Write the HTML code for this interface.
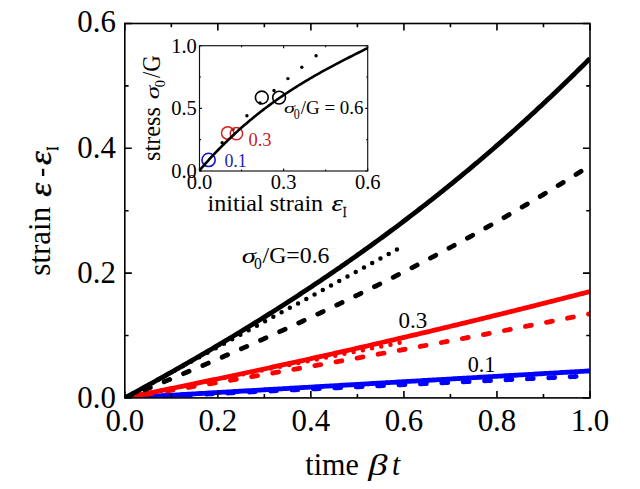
<!DOCTYPE html>
<html><head><meta charset="utf-8"><style>
html,body{margin:0;padding:0;background:#fff;width:640px;height:489px;overflow:hidden}
svg{display:block}
text{font-family:"Liberation Serif",serif}
</style></head><body>
<svg width="640" height="489" viewBox="0 0 640 489" font-family="Liberation Serif, serif">
<defs><clipPath id="mc"><rect x="124.8" y="23.5" width="465.2" height="374.4"/></clipPath></defs>
<rect width="640" height="489" fill="#fff"/>
<g clip-path="url(#mc)">
<path d="M124.80,397.90 L126.18,397.82 L127.56,397.74 L128.94,397.66 L130.32,397.58 L131.70,397.50 L133.08,397.42 L134.45,397.35 L135.83,397.27 L137.21,397.19 L138.59,397.11 L139.97,397.03 L141.35,396.95 L142.73,396.87 L144.11,396.79 L145.49,396.71 L146.87,396.63 L148.25,396.55 L149.63,396.47 L151.01,396.40 L152.38,396.32 L153.76,396.24 L155.14,396.16 L156.52,396.08 L157.90,396.00 L159.28,395.92 L160.66,395.84 L162.04,395.76 L163.42,395.68 L164.80,395.60 L166.18,395.52 L167.56,395.45 L168.94,395.37 L170.31,395.29 L171.69,395.21 L173.07,395.13 L174.45,395.05 L175.83,394.97 L177.21,394.89 L178.59,394.81 L179.97,394.73 L181.35,394.65 L182.73,394.57 L184.11,394.50 L185.49,394.42 L186.87,394.34 L188.24,394.26 L189.62,394.18 L191.00,394.10 L192.38,394.02 L193.76,393.94 L195.14,393.86 L196.52,393.78 L197.90,393.70 L199.28,393.62 L200.66,393.54 L202.04,393.47 L203.42,393.39 L204.80,393.31 L206.17,393.23 L207.55,393.15 L208.93,393.07 L210.31,392.99 L211.69,392.91 L213.07,392.83 L214.45,392.75 L215.83,392.67 L217.21,392.59 L218.59,392.52 L219.97,392.44 L221.35,392.36 L222.73,392.28 L224.11,392.20 L225.48,392.12 L226.86,392.04 L228.24,391.96 L229.62,391.88 L231.00,391.80 L232.38,391.72 L233.76,391.64 L235.14,391.57 L236.52,391.49 L237.90,391.41 L239.28,391.33 L240.66,391.25 L242.04,391.17 L243.41,391.09 L244.79,391.01 L246.17,390.93 L247.55,390.85 L248.93,390.77 L250.31,390.69 L251.69,390.62 L253.07,390.54 L254.45,390.46 L255.83,390.38 L257.21,390.30 L258.59,390.22 L259.97,390.14 L261.34,390.06 L262.72,389.98 L264.10,389.90 L265.48,389.82 L266.86,389.74 L268.24,389.67 L269.62,389.59 L271.00,389.51 L272.38,389.43 L273.76,389.35 L275.14,389.27 L276.52,389.19 L277.90,389.11 L279.27,389.03 L280.65,388.95 L282.03,388.87 L283.41,388.79 L284.79,388.71 L286.17,388.64 L287.55,388.56 L288.93,388.48 L290.31,388.40 L291.69,388.32 L293.07,388.24 L294.45,388.16 L295.83,388.08 L297.20,388.00 L298.58,387.92 L299.96,387.84 L301.34,387.76 L302.72,387.69 L304.10,387.61 L305.48,387.53 L306.86,387.45 L308.24,387.37 L309.62,387.29 L311.00,387.21 L312.38,387.13 L313.76,387.05 L315.13,386.97 L316.51,386.89 L317.89,386.81 L319.27,386.74 L320.65,386.66 L322.03,386.58 L323.41,386.50 L324.79,386.42 L326.17,386.34 L327.55,386.26 L328.93,386.18 L330.31,386.10 L331.69,386.02 L333.06,385.94 L334.44,385.86 L335.82,385.79 L337.20,385.71 L338.58,385.63 L339.96,385.55 L341.34,385.47 L342.72,385.39 L344.10,385.31 L345.48,385.23 L346.86,385.15 L348.24,385.07 L349.62,384.99 L350.99,384.91 L352.37,384.83 L353.75,384.76 L355.13,384.68 L356.51,384.60 L357.89,384.52 L359.27,384.44 L360.65,384.36 L362.03,384.28 L363.41,384.20 L364.79,384.12 L366.17,384.04 L367.55,383.96 L368.92,383.88 L370.30,383.81 L371.68,383.73 L373.06,383.65 L374.44,383.57 L375.82,383.49 L377.20,383.41 L378.58,383.33 L379.96,383.25 L381.34,383.17 L382.72,383.09 L384.10,383.01 L385.48,382.93 L386.85,382.86 L388.23,382.78 L389.61,382.70 L390.99,382.62 L392.37,382.54 L393.75,382.46 L395.13,382.38 L396.51,382.30 L397.89,382.22 L399.27,382.14" fill="none" stroke="#0000ff" stroke-width="4.5" stroke-dasharray="0 9.380" stroke-dashoffset="0.000" stroke-linecap="round"/>
<path d="M124.80,397.90 L127.14,397.79 L129.48,397.68 L131.81,397.57 L134.15,397.46 L136.49,397.34 L138.83,397.23 L141.16,397.12 L143.50,397.01 L145.84,396.90 L148.18,396.79 L150.51,396.68 L152.85,396.57 L155.19,396.46 L157.53,396.35 L159.87,396.23 L162.20,396.12 L164.54,396.01 L166.88,395.90 L169.22,395.79 L171.55,395.68 L173.89,395.57 L176.23,395.46 L178.57,395.35 L180.90,395.24 L183.24,395.12 L185.58,395.01 L187.92,394.90 L190.26,394.79 L192.59,394.68 L194.93,394.57 L197.27,394.46 L199.61,394.35 L201.94,394.24 L204.28,394.13 L206.62,394.01 L208.96,393.90 L211.29,393.79 L213.63,393.68 L215.97,393.57 L218.31,393.46 L220.65,393.35 L222.98,393.24 L225.32,393.13 L227.66,393.02 L230.00,392.90 L232.33,392.79 L234.67,392.68 L237.01,392.57 L239.35,392.46 L241.68,392.35 L244.02,392.24 L246.36,392.13 L248.70,392.02 L251.04,391.91 L253.37,391.79 L255.71,391.68 L258.05,391.57 L260.39,391.46 L262.72,391.35 L265.06,391.24 L267.40,391.13 L269.74,391.02 L272.07,390.91 L274.41,390.80 L276.75,390.68 L279.09,390.57 L281.43,390.46 L283.76,390.35 L286.10,390.24 L288.44,390.13 L290.78,390.02 L293.11,389.91 L295.45,389.80 L297.79,389.69 L300.13,389.57 L302.46,389.46 L304.80,389.35 L307.14,389.24 L309.48,389.13 L311.82,389.02 L314.15,388.91 L316.49,388.80 L318.83,388.69 L321.17,388.58 L323.50,388.46 L325.84,388.35 L328.18,388.24 L330.52,388.13 L332.85,388.02 L335.19,387.91 L337.53,387.80 L339.87,387.69 L342.21,387.58 L344.54,387.47 L346.88,387.35 L349.22,387.24 L351.56,387.13 L353.89,387.02 L356.23,386.91 L358.57,386.80 L360.91,386.69 L363.24,386.58 L365.58,386.47 L367.92,386.36 L370.26,386.24 L372.59,386.13 L374.93,386.02 L377.27,385.91 L379.61,385.80 L381.95,385.69 L384.28,385.58 L386.62,385.47 L388.96,385.36 L391.30,385.25 L393.63,385.13 L395.97,385.02 L398.31,384.91 L400.65,384.80 L402.98,384.69 L405.32,384.58 L407.66,384.47 L410.00,384.36 L412.34,384.25 L414.67,384.14 L417.01,384.02 L419.35,383.91 L421.69,383.80 L424.02,383.69 L426.36,383.58 L428.70,383.47 L431.04,383.36 L433.37,383.25 L435.71,383.14 L438.05,383.03 L440.39,382.91 L442.73,382.80 L445.06,382.69 L447.40,382.58 L449.74,382.47 L452.08,382.36 L454.41,382.25 L456.75,382.14 L459.09,382.03 L461.43,381.92 L463.76,381.80 L466.10,381.69 L468.44,381.58 L470.78,381.47 L473.12,381.36 L475.45,381.25 L477.79,381.14 L480.13,381.03 L482.47,380.92 L484.80,380.81 L487.14,380.69 L489.48,380.58 L491.82,380.47 L494.15,380.36 L496.49,380.25 L498.83,380.14 L501.17,380.03 L503.51,379.92 L505.84,379.81 L508.18,379.70 L510.52,379.58 L512.86,379.47 L515.19,379.36 L517.53,379.25 L519.87,379.14 L522.21,379.03 L524.54,378.92 L526.88,378.81 L529.22,378.70 L531.56,378.59 L533.90,378.47 L536.23,378.36 L538.57,378.25 L540.91,378.14 L543.25,378.03 L545.58,377.92 L547.92,377.81 L550.26,377.70 L552.60,377.59 L554.93,377.48 L557.27,377.36 L559.61,377.25 L561.95,377.14 L564.29,377.03 L566.62,376.92 L568.96,376.81 L571.30,376.70 L573.64,376.59 L575.97,376.48 L578.31,376.37 L580.65,376.25 L582.99,376.14 L585.32,376.03 L587.66,375.92 L590.00,375.81" fill="none" stroke="#0000ff" stroke-width="4.8" stroke-dasharray="6.0 15.420" stroke-dashoffset="4.000" stroke-linecap="round"/>
<path d="M124.80,397.90 L127.14,397.76 L129.48,397.63 L131.81,397.49 L134.15,397.36 L136.49,397.22 L138.83,397.09 L141.16,396.95 L143.50,396.81 L145.84,396.68 L148.18,396.54 L150.51,396.41 L152.85,396.27 L155.19,396.13 L157.53,396.00 L159.87,395.86 L162.20,395.73 L164.54,395.59 L166.88,395.46 L169.22,395.32 L171.55,395.18 L173.89,395.05 L176.23,394.91 L178.57,394.78 L180.90,394.64 L183.24,394.51 L185.58,394.37 L187.92,394.23 L190.26,394.10 L192.59,393.96 L194.93,393.83 L197.27,393.69 L199.61,393.56 L201.94,393.42 L204.28,393.28 L206.62,393.15 L208.96,393.01 L211.29,392.88 L213.63,392.74 L215.97,392.60 L218.31,392.47 L220.65,392.33 L222.98,392.20 L225.32,392.06 L227.66,391.93 L230.00,391.79 L232.33,391.65 L234.67,391.52 L237.01,391.38 L239.35,391.25 L241.68,391.11 L244.02,390.98 L246.36,390.84 L248.70,390.70 L251.04,390.57 L253.37,390.43 L255.71,390.30 L258.05,390.16 L260.39,390.03 L262.72,389.89 L265.06,389.75 L267.40,389.62 L269.74,389.48 L272.07,389.35 L274.41,389.21 L276.75,389.07 L279.09,388.94 L281.43,388.80 L283.76,388.67 L286.10,388.53 L288.44,388.40 L290.78,388.26 L293.11,388.12 L295.45,387.99 L297.79,387.85 L300.13,387.72 L302.46,387.58 L304.80,387.45 L307.14,387.31 L309.48,387.17 L311.82,387.04 L314.15,386.90 L316.49,386.77 L318.83,386.63 L321.17,386.49 L323.50,386.36 L325.84,386.22 L328.18,386.09 L330.52,385.95 L332.85,385.82 L335.19,385.68 L337.53,385.54 L339.87,385.41 L342.21,385.27 L344.54,385.14 L346.88,385.00 L349.22,384.87 L351.56,384.73 L353.89,384.59 L356.23,384.46 L358.57,384.32 L360.91,384.19 L363.24,384.05 L365.58,383.92 L367.92,383.78 L370.26,383.64 L372.59,383.51 L374.93,383.37 L377.27,383.24 L379.61,383.10 L381.95,382.96 L384.28,382.83 L386.62,382.69 L388.96,382.56 L391.30,382.42 L393.63,382.29 L395.97,382.15 L398.31,382.01 L400.65,381.88 L402.98,381.74 L405.32,381.61 L407.66,381.47 L410.00,381.34 L412.34,381.20 L414.67,381.06 L417.01,380.93 L419.35,380.79 L421.69,380.66 L424.02,380.52 L426.36,380.39 L428.70,380.25 L431.04,380.11 L433.37,379.98 L435.71,379.84 L438.05,379.71 L440.39,379.57 L442.73,379.43 L445.06,379.30 L447.40,379.16 L449.74,379.03 L452.08,378.89 L454.41,378.76 L456.75,378.62 L459.09,378.48 L461.43,378.35 L463.76,378.21 L466.10,378.08 L468.44,377.94 L470.78,377.81 L473.12,377.67 L475.45,377.53 L477.79,377.40 L480.13,377.26 L482.47,377.13 L484.80,376.99 L487.14,376.85 L489.48,376.72 L491.82,376.58 L494.15,376.45 L496.49,376.31 L498.83,376.18 L501.17,376.04 L503.51,375.90 L505.84,375.77 L508.18,375.63 L510.52,375.50 L512.86,375.36 L515.19,375.23 L517.53,375.09 L519.87,374.95 L522.21,374.82 L524.54,374.68 L526.88,374.55 L529.22,374.41 L531.56,374.28 L533.90,374.14 L536.23,374.00 L538.57,373.87 L540.91,373.73 L543.25,373.60 L545.58,373.46 L547.92,373.32 L550.26,373.19 L552.60,373.05 L554.93,372.92 L557.27,372.78 L559.61,372.65 L561.95,372.51 L564.29,372.37 L566.62,372.24 L568.96,372.10 L571.30,371.97 L573.64,371.83 L575.97,371.70 L578.31,371.56 L580.65,371.42 L582.99,371.29 L585.32,371.15 L587.66,371.02 L590.00,370.88" fill="none" stroke="#0000ff" stroke-width="4.8" stroke-linejoin="round"/>
<path d="M124.80,397.90 L126.18,397.62 L127.57,397.35 L128.95,397.07 L130.33,396.79 L131.71,396.51 L133.10,396.24 L134.48,395.96 L135.86,395.68 L137.24,395.40 L138.63,395.13 L140.01,394.85 L141.39,394.57 L142.78,394.30 L144.16,394.02 L145.54,393.74 L146.92,393.46 L148.31,393.19 L149.69,392.91 L151.07,392.63 L152.45,392.35 L153.84,392.08 L155.22,391.80 L156.60,391.52 L157.99,391.25 L159.37,390.97 L160.75,390.69 L162.13,390.41 L163.52,390.14 L164.90,389.86 L166.28,389.58 L167.67,389.30 L169.05,389.03 L170.43,388.75 L171.81,388.47 L173.20,388.20 L174.58,387.92 L175.96,387.64 L177.34,387.36 L178.73,387.09 L180.11,386.81 L181.49,386.53 L182.88,386.25 L184.26,385.98 L185.64,385.70 L187.02,385.42 L188.41,385.14 L189.79,384.87 L191.17,384.59 L192.55,384.31 L193.94,384.04 L195.32,383.76 L196.70,383.48 L198.09,383.20 L199.47,382.93 L200.85,382.65 L202.23,382.37 L203.62,382.09 L205.00,381.82 L206.38,381.54 L207.76,381.26 L209.15,380.99 L210.53,380.71 L211.91,380.43 L213.30,380.15 L214.68,379.88 L216.06,379.60 L217.44,379.32 L218.83,379.04 L220.21,378.77 L221.59,378.49 L222.97,378.21 L224.36,377.94 L225.74,377.66 L227.12,377.38 L228.51,377.10 L229.89,376.83 L231.27,376.55 L232.65,376.27 L234.04,375.99 L235.42,375.72 L236.80,375.44 L238.18,375.16 L239.57,374.89 L240.95,374.61 L242.33,374.33 L243.72,374.05 L245.10,373.78 L246.48,373.50 L247.86,373.22 L249.25,372.94 L250.63,372.67 L252.01,372.39 L253.40,372.11 L254.78,371.84 L256.16,371.56 L257.54,371.28 L258.93,371.00 L260.31,370.73 L261.69,370.45 L263.07,370.17 L264.46,369.89 L265.84,369.62 L267.22,369.34 L268.61,369.06 L269.99,368.79 L271.37,368.51 L272.75,368.23 L274.14,367.95 L275.52,367.68 L276.90,367.40 L278.28,367.12 L279.67,366.84 L281.05,366.57 L282.43,366.29 L283.82,366.01 L285.20,365.73 L286.58,365.46 L287.96,365.18 L289.35,364.90 L290.73,364.63 L292.11,364.35 L293.49,364.07 L294.88,363.79 L296.26,363.52 L297.64,363.24 L299.03,362.96 L300.41,362.68 L301.79,362.41 L303.17,362.13 L304.56,361.85 L305.94,361.58 L307.32,361.30 L308.70,361.02 L310.09,360.74 L311.47,360.47 L312.85,360.19 L314.24,359.91 L315.62,359.63 L317.00,359.36 L318.38,359.08 L319.77,358.80 L321.15,358.53 L322.53,358.25 L323.91,357.97 L325.30,357.69 L326.68,357.42 L328.06,357.14 L329.45,356.86 L330.83,356.58 L332.21,356.31 L333.59,356.03 L334.98,355.75 L336.36,355.48 L337.74,355.20 L339.13,354.92 L340.51,354.64 L341.89,354.37 L343.27,354.09 L344.66,353.81 L346.04,353.53 L347.42,353.26 L348.80,352.98 L350.19,352.70 L351.57,352.43 L352.95,352.15 L354.34,351.87 L355.72,351.59 L357.10,351.32 L358.48,351.04 L359.87,350.76 L361.25,350.48 L362.63,350.21 L364.01,349.93 L365.40,349.65 L366.78,349.38 L368.16,349.10 L369.55,348.82 L370.93,348.54 L372.31,348.27 L373.69,347.99 L375.08,347.71 L376.46,347.43 L377.84,347.16 L379.22,346.88 L380.61,346.60 L381.99,346.32 L383.37,346.05 L384.76,345.77 L386.14,345.49 L387.52,345.22 L388.90,344.94 L390.29,344.66 L391.67,344.38 L393.05,344.11 L394.43,343.83 L395.82,343.55 L397.20,343.27 L398.58,343.00 L399.97,342.72" fill="none" stroke="#ff0000" stroke-width="4.5" stroke-dasharray="0 9.383" stroke-dashoffset="1.180" stroke-linecap="round"/>
<path d="M124.80,397.90 L127.14,397.52 L129.48,397.14 L131.81,396.76 L134.15,396.38 L136.49,396.00 L138.83,395.62 L141.16,395.23 L143.50,394.85 L145.84,394.47 L148.18,394.08 L150.51,393.70 L152.85,393.32 L155.19,392.93 L157.53,392.55 L159.87,392.16 L162.20,391.77 L164.54,391.39 L166.88,391.00 L169.22,390.61 L171.55,390.22 L173.89,389.84 L176.23,389.45 L178.57,389.06 L180.90,388.67 L183.24,388.28 L185.58,387.89 L187.92,387.50 L190.26,387.10 L192.59,386.71 L194.93,386.32 L197.27,385.93 L199.61,385.53 L201.94,385.14 L204.28,384.75 L206.62,384.35 L208.96,383.96 L211.29,383.56 L213.63,383.17 L215.97,382.77 L218.31,382.37 L220.65,381.98 L222.98,381.58 L225.32,381.18 L227.66,380.78 L230.00,380.38 L232.33,379.98 L234.67,379.58 L237.01,379.18 L239.35,378.78 L241.68,378.38 L244.02,377.98 L246.36,377.58 L248.70,377.18 L251.04,376.77 L253.37,376.37 L255.71,375.97 L258.05,375.56 L260.39,375.16 L262.72,374.75 L265.06,374.35 L267.40,373.94 L269.74,373.53 L272.07,373.13 L274.41,372.72 L276.75,372.31 L279.09,371.90 L281.43,371.50 L283.76,371.09 L286.10,370.68 L288.44,370.27 L290.78,369.86 L293.11,369.45 L295.45,369.04 L297.79,368.62 L300.13,368.21 L302.46,367.80 L304.80,367.39 L307.14,366.97 L309.48,366.56 L311.82,366.14 L314.15,365.73 L316.49,365.32 L318.83,364.90 L321.17,364.48 L323.50,364.07 L325.84,363.65 L328.18,363.23 L330.52,362.82 L332.85,362.40 L335.19,361.98 L337.53,361.56 L339.87,361.14 L342.21,360.72 L344.54,360.30 L346.88,359.88 L349.22,359.46 L351.56,359.04 L353.89,358.61 L356.23,358.19 L358.57,357.77 L360.91,357.34 L363.24,356.92 L365.58,356.50 L367.92,356.07 L370.26,355.65 L372.59,355.22 L374.93,354.79 L377.27,354.37 L379.61,353.94 L381.95,353.51 L384.28,353.09 L386.62,352.66 L388.96,352.23 L391.30,351.80 L393.63,351.37 L395.97,350.94 L398.31,350.51 L400.65,350.08 L402.98,349.65 L405.32,349.22 L407.66,348.78 L410.00,348.35 L412.34,347.92 L414.67,347.48 L417.01,347.05 L419.35,346.62 L421.69,346.18 L424.02,345.75 L426.36,345.31 L428.70,344.87 L431.04,344.44 L433.37,344.00 L435.71,343.56 L438.05,343.13 L440.39,342.69 L442.73,342.25 L445.06,341.81 L447.40,341.37 L449.74,340.93 L452.08,340.49 L454.41,340.05 L456.75,339.61 L459.09,339.16 L461.43,338.72 L463.76,338.28 L466.10,337.84 L468.44,337.39 L470.78,336.95 L473.12,336.50 L475.45,336.06 L477.79,335.61 L480.13,335.17 L482.47,334.72 L484.80,334.28 L487.14,333.83 L489.48,333.38 L491.82,332.93 L494.15,332.48 L496.49,332.04 L498.83,331.59 L501.17,331.14 L503.51,330.69 L505.84,330.24 L508.18,329.78 L510.52,329.33 L512.86,328.88 L515.19,328.43 L517.53,327.98 L519.87,327.52 L522.21,327.07 L524.54,326.62 L526.88,326.16 L529.22,325.71 L531.56,325.25 L533.90,324.79 L536.23,324.34 L538.57,323.88 L540.91,323.42 L543.25,322.97 L545.58,322.51 L547.92,322.05 L550.26,321.59 L552.60,321.13 L554.93,320.67 L557.27,320.21 L559.61,319.75 L561.95,319.29 L564.29,318.83 L566.62,318.37 L568.96,317.90 L571.30,317.44 L573.64,316.98 L575.97,316.51 L578.31,316.05 L580.65,315.59 L582.99,315.12 L585.32,314.65 L587.66,314.19 L590.00,313.72" fill="none" stroke="#ff0000" stroke-width="4.8" stroke-dasharray="6.0 15.420" stroke-dashoffset="0.000" stroke-linecap="round"/>
<path d="M124.80,397.90 L127.14,397.43 L129.48,396.97 L131.81,396.50 L134.15,396.03 L136.49,395.57 L138.83,395.10 L141.16,394.63 L143.50,394.16 L145.84,393.69 L148.18,393.21 L150.51,392.74 L152.85,392.27 L155.19,391.80 L157.53,391.32 L159.87,390.85 L162.20,390.37 L164.54,389.89 L166.88,389.42 L169.22,388.94 L171.55,388.46 L173.89,387.98 L176.23,387.50 L178.57,387.02 L180.90,386.54 L183.24,386.06 L185.58,385.57 L187.92,385.09 L190.26,384.61 L192.59,384.12 L194.93,383.63 L197.27,383.15 L199.61,382.66 L201.94,382.17 L204.28,381.68 L206.62,381.20 L208.96,380.71 L211.29,380.22 L213.63,379.72 L215.97,379.23 L218.31,378.74 L220.65,378.25 L222.98,377.75 L225.32,377.26 L227.66,376.76 L230.00,376.27 L232.33,375.77 L234.67,375.27 L237.01,374.77 L239.35,374.27 L241.68,373.77 L244.02,373.27 L246.36,372.77 L248.70,372.27 L251.04,371.77 L253.37,371.27 L255.71,370.76 L258.05,370.26 L260.39,369.75 L262.72,369.25 L265.06,368.74 L267.40,368.23 L269.74,367.72 L272.07,367.22 L274.41,366.71 L276.75,366.20 L279.09,365.68 L281.43,365.17 L283.76,364.66 L286.10,364.15 L288.44,363.63 L290.78,363.12 L293.11,362.61 L295.45,362.09 L297.79,361.57 L300.13,361.06 L302.46,360.54 L304.80,360.02 L307.14,359.50 L309.48,358.98 L311.82,358.46 L314.15,357.94 L316.49,357.42 L318.83,356.89 L321.17,356.37 L323.50,355.85 L325.84,355.32 L328.18,354.80 L330.52,354.27 L332.85,353.74 L335.19,353.21 L337.53,352.69 L339.87,352.16 L342.21,351.63 L344.54,351.10 L346.88,350.57 L349.22,350.03 L351.56,349.50 L353.89,348.97 L356.23,348.43 L358.57,347.90 L360.91,347.36 L363.24,346.83 L365.58,346.29 L367.92,345.75 L370.26,345.22 L372.59,344.68 L374.93,344.14 L377.27,343.60 L379.61,343.06 L381.95,342.51 L384.28,341.97 L386.62,341.43 L388.96,340.89 L391.30,340.34 L393.63,339.80 L395.97,339.25 L398.31,338.70 L400.65,338.16 L402.98,337.61 L405.32,337.06 L407.66,336.51 L410.00,335.96 L412.34,335.41 L414.67,334.86 L417.01,334.31 L419.35,333.75 L421.69,333.20 L424.02,332.65 L426.36,332.09 L428.70,331.54 L431.04,330.98 L433.37,330.42 L435.71,329.86 L438.05,329.31 L440.39,328.75 L442.73,328.19 L445.06,327.63 L447.40,327.07 L449.74,326.50 L452.08,325.94 L454.41,325.38 L456.75,324.81 L459.09,324.25 L461.43,323.68 L463.76,323.12 L466.10,322.55 L468.44,321.98 L470.78,321.41 L473.12,320.85 L475.45,320.28 L477.79,319.71 L480.13,319.13 L482.47,318.56 L484.80,317.99 L487.14,317.42 L489.48,316.84 L491.82,316.27 L494.15,315.69 L496.49,315.12 L498.83,314.54 L501.17,313.96 L503.51,313.39 L505.84,312.81 L508.18,312.23 L510.52,311.65 L512.86,311.07 L515.19,310.49 L517.53,309.90 L519.87,309.32 L522.21,308.74 L524.54,308.15 L526.88,307.57 L529.22,306.98 L531.56,306.40 L533.90,305.81 L536.23,305.22 L538.57,304.63 L540.91,304.04 L543.25,303.45 L545.58,302.86 L547.92,302.27 L550.26,301.68 L552.60,301.09 L554.93,300.49 L557.27,299.90 L559.61,299.30 L561.95,298.71 L564.29,298.11 L566.62,297.52 L568.96,296.92 L571.30,296.32 L573.64,295.72 L575.97,295.12 L578.31,294.52 L580.65,293.92 L582.99,293.32 L585.32,292.72 L587.66,292.11 L590.00,291.51" fill="none" stroke="#ff0000" stroke-width="4.8" stroke-linejoin="round"/>
<path d="M124.80,397.90 L126.17,397.15 L127.54,396.40 L128.91,395.66 L130.28,394.91 L131.65,394.16 L133.02,393.41 L134.39,392.67 L135.76,391.92 L137.13,391.17 L138.50,390.42 L139.87,389.68 L141.24,388.93 L142.61,388.18 L143.98,387.43 L145.36,386.69 L146.73,385.94 L148.10,385.19 L149.47,384.44 L150.84,383.70 L152.21,382.95 L153.58,382.20 L154.95,381.45 L156.32,380.71 L157.69,379.96 L159.06,379.21 L160.43,378.46 L161.80,377.72 L163.17,376.97 L164.54,376.22 L165.91,375.47 L167.28,374.73 L168.65,373.98 L170.02,373.23 L171.39,372.48 L172.76,371.74 L174.13,370.99 L175.50,370.24 L176.87,369.49 L178.24,368.74 L179.61,368.00 L180.98,367.25 L182.35,366.50 L183.73,365.75 L185.10,365.01 L186.47,364.26 L187.84,363.51 L189.21,362.76 L190.58,362.02 L191.95,361.27 L193.32,360.52 L194.69,359.77 L196.06,359.03 L197.43,358.28 L198.80,357.53 L200.17,356.78 L201.54,356.04 L202.91,355.29 L204.28,354.54 L205.65,353.79 L207.02,353.05 L208.39,352.30 L209.76,351.55 L211.13,350.80 L212.50,350.06 L213.87,349.31 L215.24,348.56 L216.61,347.81 L217.98,347.07 L219.35,346.32 L220.72,345.57 L222.10,344.82 L223.47,344.08 L224.84,343.33 L226.21,342.58 L227.58,341.83 L228.95,341.08 L230.32,340.34 L231.69,339.59 L233.06,338.84 L234.43,338.09 L235.80,337.35 L237.17,336.60 L238.54,335.85 L239.91,335.10 L241.28,334.36 L242.65,333.61 L244.02,332.86 L245.39,332.11 L246.76,331.37 L248.13,330.62 L249.50,329.87 L250.87,329.12 L252.24,328.38 L253.61,327.63 L254.98,326.88 L256.35,326.13 L257.72,325.39 L259.09,324.64 L260.46,323.89 L261.84,323.14 L263.21,322.40 L264.58,321.65 L265.95,320.90 L267.32,320.15 L268.69,319.41 L270.06,318.66 L271.43,317.91 L272.80,317.16 L274.17,316.41 L275.54,315.67 L276.91,314.92 L278.28,314.17 L279.65,313.42 L281.02,312.68 L282.39,311.93 L283.76,311.18 L285.13,310.43 L286.50,309.69 L287.87,308.94 L289.24,308.19 L290.61,307.44 L291.98,306.70 L293.35,305.95 L294.72,305.20 L296.09,304.45 L297.46,303.71 L298.83,302.96 L300.21,302.21 L301.58,301.46 L302.95,300.72 L304.32,299.97 L305.69,299.22 L307.06,298.47 L308.43,297.73 L309.80,296.98 L311.17,296.23 L312.54,295.48 L313.91,294.74 L315.28,293.99 L316.65,293.24 L318.02,292.49 L319.39,291.75 L320.76,291.00 L322.13,290.25 L323.50,289.50 L324.87,288.75 L326.24,288.01 L327.61,287.26 L328.98,286.51 L330.35,285.76 L331.72,285.02 L333.09,284.27 L334.46,283.52 L335.83,282.77 L337.20,282.03 L338.58,281.28 L339.95,280.53 L341.32,279.78 L342.69,279.04 L344.06,278.29 L345.43,277.54 L346.80,276.79 L348.17,276.05 L349.54,275.30 L350.91,274.55 L352.28,273.80 L353.65,273.06 L355.02,272.31 L356.39,271.56 L357.76,270.81 L359.13,270.07 L360.50,269.32 L361.87,268.57 L363.24,267.82 L364.61,267.08 L365.98,266.33 L367.35,265.58 L368.72,264.83 L370.09,264.09 L371.46,263.34 L372.83,262.59 L374.20,261.84 L375.57,261.09 L376.94,260.35 L378.32,259.60 L379.69,258.85 L381.06,258.10 L382.43,257.36 L383.80,256.61 L385.17,255.86 L386.54,255.11 L387.91,254.37 L389.28,253.62 L390.65,252.87 L392.02,252.12 L393.39,251.38 L394.76,250.63 L396.13,249.88 L397.50,249.13" fill="none" stroke="#000" stroke-width="4.5" stroke-dasharray="0 9.384" stroke-dashoffset="9.084" stroke-linecap="round"/>
<path d="M124.80,397.90 L127.14,396.95 L129.48,396.00 L131.81,395.05 L134.15,394.09 L136.49,393.14 L138.83,392.18 L141.16,391.22 L143.50,390.27 L145.84,389.31 L148.18,388.34 L150.51,387.38 L152.85,386.42 L155.19,385.45 L157.53,384.49 L159.87,383.52 L162.20,382.55 L164.54,381.58 L166.88,380.61 L169.22,379.63 L171.55,378.66 L173.89,377.68 L176.23,376.70 L178.57,375.72 L180.90,374.74 L183.24,373.76 L185.58,372.77 L187.92,371.79 L190.26,370.80 L192.59,369.81 L194.93,368.82 L197.27,367.83 L199.61,366.84 L201.94,365.84 L204.28,364.84 L206.62,363.84 L208.96,362.84 L211.29,361.84 L213.63,360.84 L215.97,359.83 L218.31,358.82 L220.65,357.81 L222.98,356.80 L225.32,355.79 L227.66,354.77 L230.00,353.76 L232.33,352.74 L234.67,351.72 L237.01,350.70 L239.35,349.67 L241.68,348.65 L244.02,347.62 L246.36,346.59 L248.70,345.56 L251.04,344.52 L253.37,343.49 L255.71,342.45 L258.05,341.41 L260.39,340.37 L262.72,339.32 L265.06,338.28 L267.40,337.23 L269.74,336.18 L272.07,335.12 L274.41,334.07 L276.75,333.01 L279.09,331.95 L281.43,330.89 L283.76,329.83 L286.10,328.76 L288.44,327.70 L290.78,326.63 L293.11,325.55 L295.45,324.48 L297.79,323.40 L300.13,322.32 L302.46,321.24 L304.80,320.16 L307.14,319.07 L309.48,317.98 L311.82,316.89 L314.15,315.80 L316.49,314.70 L318.83,313.61 L321.17,312.51 L323.50,311.40 L325.84,310.30 L328.18,309.19 L330.52,308.08 L332.85,306.97 L335.19,305.85 L337.53,304.73 L339.87,303.61 L342.21,302.49 L344.54,301.36 L346.88,300.23 L349.22,299.10 L351.56,297.97 L353.89,296.83 L356.23,295.69 L358.57,294.55 L360.91,293.41 L363.24,292.26 L365.58,291.11 L367.92,289.96 L370.26,288.80 L372.59,287.65 L374.93,286.48 L377.27,285.32 L379.61,284.15 L381.95,282.99 L384.28,281.81 L386.62,280.64 L388.96,279.46 L391.30,278.28 L393.63,277.10 L395.97,275.91 L398.31,274.72 L400.65,273.53 L402.98,272.33 L405.32,271.13 L407.66,269.93 L410.00,268.73 L412.34,267.52 L414.67,266.31 L417.01,265.09 L419.35,263.88 L421.69,262.66 L424.02,261.43 L426.36,260.21 L428.70,258.98 L431.04,257.75 L433.37,256.51 L435.71,255.27 L438.05,254.03 L440.39,252.79 L442.73,251.54 L445.06,250.28 L447.40,249.03 L449.74,247.77 L452.08,246.51 L454.41,245.25 L456.75,243.98 L459.09,242.71 L461.43,241.43 L463.76,240.15 L466.10,238.87 L468.44,237.59 L470.78,236.30 L473.12,235.01 L475.45,233.71 L477.79,232.41 L480.13,231.11 L482.47,229.80 L484.80,228.49 L487.14,227.18 L489.48,225.86 L491.82,224.54 L494.15,223.22 L496.49,221.89 L498.83,220.56 L501.17,219.23 L503.51,217.89 L505.84,216.55 L508.18,215.20 L510.52,213.86 L512.86,212.50 L515.19,211.15 L517.53,209.79 L519.87,208.42 L522.21,207.05 L524.54,205.68 L526.88,204.31 L529.22,202.93 L531.56,201.55 L533.90,200.16 L536.23,198.77 L538.57,197.38 L540.91,195.98 L543.25,194.58 L545.58,193.17 L547.92,191.76 L550.26,190.35 L552.60,188.93 L554.93,187.51 L557.27,186.08 L559.61,184.65 L561.95,183.22 L564.29,181.78 L566.62,180.34 L568.96,178.89 L571.30,177.44 L573.64,175.99 L575.97,174.53 L578.31,173.07 L580.65,171.60 L582.99,170.13 L585.32,168.66 L587.66,167.18 L590.00,165.69" fill="none" stroke="#000" stroke-width="4.8" stroke-dasharray="6.0 14.980" stroke-dashoffset="-0.600" stroke-linecap="round"/>
<path d="M124.80,397.90 L127.14,396.63 L129.48,395.37 L131.81,394.09 L134.15,392.82 L136.49,391.55 L138.83,390.27 L141.16,388.99 L143.50,387.70 L145.84,386.42 L148.18,385.13 L150.51,383.83 L152.85,382.54 L155.19,381.24 L157.53,379.94 L159.87,378.64 L162.20,377.33 L164.54,376.03 L166.88,374.71 L169.22,373.40 L171.55,372.08 L173.89,370.76 L176.23,369.44 L178.57,368.11 L180.90,366.78 L183.24,365.45 L185.58,364.11 L187.92,362.77 L190.26,361.43 L192.59,360.09 L194.93,358.74 L197.27,357.38 L199.61,356.03 L201.94,354.67 L204.28,353.31 L206.62,351.94 L208.96,350.57 L211.29,349.20 L213.63,347.82 L215.97,346.44 L218.31,345.06 L220.65,343.67 L222.98,342.28 L225.32,340.89 L227.66,339.49 L230.00,338.09 L232.33,336.68 L234.67,335.27 L237.01,333.86 L239.35,332.44 L241.68,331.02 L244.02,329.59 L246.36,328.17 L248.70,326.73 L251.04,325.30 L253.37,323.85 L255.71,322.41 L258.05,320.96 L260.39,319.51 L262.72,318.05 L265.06,316.59 L267.40,315.12 L269.74,313.65 L272.07,312.18 L274.41,310.70 L276.75,309.21 L279.09,307.72 L281.43,306.23 L283.76,304.74 L286.10,303.23 L288.44,301.73 L290.78,300.22 L293.11,298.70 L295.45,297.18 L297.79,295.66 L300.13,294.13 L302.46,292.60 L304.80,291.06 L307.14,289.52 L309.48,287.97 L311.82,286.42 L314.15,284.86 L316.49,283.30 L318.83,281.73 L321.17,280.16 L323.50,278.58 L325.84,277.00 L328.18,275.41 L330.52,273.82 L332.85,272.22 L335.19,270.62 L337.53,269.01 L339.87,267.40 L342.21,265.78 L344.54,264.16 L346.88,262.53 L349.22,260.90 L351.56,259.26 L353.89,257.61 L356.23,255.96 L358.57,254.31 L360.91,252.65 L363.24,250.98 L365.58,249.31 L367.92,247.63 L370.26,245.95 L372.59,244.26 L374.93,242.57 L377.27,240.87 L379.61,239.16 L381.95,237.45 L384.28,235.73 L386.62,234.01 L388.96,232.28 L391.30,230.55 L393.63,228.81 L395.97,227.06 L398.31,225.31 L400.65,223.55 L402.98,221.79 L405.32,220.01 L407.66,218.24 L410.00,216.46 L412.34,214.67 L414.67,212.87 L417.01,211.07 L419.35,209.26 L421.69,207.45 L424.02,205.63 L426.36,203.80 L428.70,201.97 L431.04,200.13 L433.37,198.29 L435.71,196.44 L438.05,194.58 L440.39,192.71 L442.73,190.84 L445.06,188.96 L447.40,187.08 L449.74,185.19 L452.08,183.29 L454.41,181.39 L456.75,179.47 L459.09,177.56 L461.43,175.63 L463.76,173.70 L466.10,171.76 L468.44,169.82 L470.78,167.87 L473.12,165.91 L475.45,163.94 L477.79,161.97 L480.13,159.99 L482.47,158.00 L484.80,156.01 L487.14,154.00 L489.48,152.00 L491.82,149.98 L494.15,147.96 L496.49,145.93 L498.83,143.89 L501.17,141.85 L503.51,139.79 L505.84,137.73 L508.18,135.67 L510.52,133.59 L512.86,131.51 L515.19,129.42 L517.53,127.33 L519.87,125.22 L522.21,123.11 L524.54,120.99 L526.88,118.86 L529.22,116.73 L531.56,114.59 L533.90,112.44 L536.23,110.28 L538.57,108.11 L540.91,105.94 L543.25,103.76 L545.58,101.57 L547.92,99.37 L550.26,97.17 L552.60,94.96 L554.93,92.73 L557.27,90.51 L559.61,88.27 L561.95,86.02 L564.29,83.77 L566.62,81.51 L568.96,79.24 L571.30,76.96 L573.64,74.67 L575.97,72.38 L578.31,70.08 L580.65,67.77 L582.99,65.45 L585.32,63.12 L587.66,60.78 L590.00,58.44" fill="none" stroke="#000" stroke-width="4.8" stroke-linejoin="round"/>
</g>
<rect x="124.8" y="23.50" width="465.20" height="374.40" fill="none" stroke="#000" stroke-width="1.6"/>
<path d="M124.80,397.90v-7M124.80,23.50v7M171.32,397.90v-3.8M171.32,23.50v3.8M217.84,397.90v-7M217.84,23.50v7M264.36,397.90v-3.8M264.36,23.50v3.8M310.88,397.90v-7M310.88,23.50v7M357.40,397.90v-3.8M357.40,23.50v3.8M403.92,397.90v-7M403.92,23.50v7M450.44,397.90v-3.8M450.44,23.50v3.8M496.96,397.90v-7M496.96,23.50v7M543.48,397.90v-3.8M543.48,23.50v3.8M590.00,397.90v-7M590.00,23.50v7M124.80,397.90h7M590.00,397.90h-7M124.80,335.50h3.8M590.00,335.50h-3.8M124.80,273.10h7M590.00,273.10h-7M124.80,210.70h3.8M590.00,210.70h-3.8M124.80,148.30h7M590.00,148.30h-7M124.80,85.90h3.8M590.00,85.90h-3.8M124.80,23.50h7M590.00,23.50h-7" stroke="#000" stroke-width="1.6" fill="none"/>
<text transform="translate(124.80,430.5) scale(0.95,1)" text-anchor="middle" font-size="32.5">0.0</text>
<text transform="translate(217.84,430.5) scale(0.95,1)" text-anchor="middle" font-size="32.5">0.2</text>
<text transform="translate(310.88,430.5) scale(0.95,1)" text-anchor="middle" font-size="32.5">0.4</text>
<text transform="translate(403.92,430.5) scale(0.95,1)" text-anchor="middle" font-size="32.5">0.6</text>
<text transform="translate(496.96,430.5) scale(0.95,1)" text-anchor="middle" font-size="32.5">0.8</text>
<text transform="translate(590.00,430.5) scale(0.95,1)" text-anchor="middle" font-size="32.5">1.0</text>
<text transform="translate(115.9,407.9) scale(0.95,1)" text-anchor="end" font-size="32.5">0.0</text>
<text transform="translate(115.9,282.6) scale(0.95,1)" text-anchor="end" font-size="32.5">0.2</text>
<text transform="translate(115.9,157.6) scale(0.95,1)" text-anchor="end" font-size="32.5">0.4</text>
<text transform="translate(115.9,31.9) scale(0.95,1)" text-anchor="end" font-size="32.5">0.6</text>
<text transform="translate(305.31,475.10) scale(0.940,1.000)" font-size="32">time</text>
<text transform="translate(368.22,475.10) scale(1.207,0.940)" font-size="32" font-style="italic">β</text>
<text transform="translate(392.12,475.10) scale(0.911,1.000)" font-size="32" font-style="italic">t</text>
<g transform="translate(49.6,276.0) rotate(-90)"><text transform="translate(0.23,0.00) scale(0.971,1.000)" font-size="32">strain</text><text transform="translate(79.14,1.00) scale(1.102,0.960)" font-size="32" font-style="italic" stroke="#000" stroke-width="0.5">ε</text><text transform="translate(111.05,1.00) scale(1.093,0.960)" font-size="32" font-style="italic" stroke="#000" stroke-width="0.5">ε</text><text transform="translate(125.59,8.20) scale(0.691,1.000)" font-size="16.6" stroke="#000" stroke-width="0.6">I</text></g>
<rect x="41.9" y="168.8" width="2.4" height="7.2" fill="#000"/>
<text transform="translate(241.65,263.30) scale(1.195,0.860)" font-size="24" font-style="italic">σ</text>
<text transform="translate(254.01,269.20) scale(0.916,1.000)" font-size="17">0</text>
<text transform="translate(262.60,263.30) scale(0.991,1.000)" font-size="24">/G=0.6</text>
<text transform="translate(398.52,328.20) scale(0.959,1.000)" font-size="24">0.3</text>
<text transform="translate(467.66,371.50) scale(0.922,1.000)" font-size="24">0.1</text>
<rect x="198.5" y="44.7" width="170.2" height="127.3" fill="#fff"/>
<rect x="199.5" y="45.7" width="168.20" height="125.30" fill="none" stroke="#111" stroke-width="1.15"/>
<path d="M199.50,171.00v-2.5M199.50,45.70v2.5M241.55,171.00v-1.5M241.55,45.70v1.5M283.60,171.00v-2.5M283.60,45.70v2.5M325.65,171.00v-1.5M325.65,45.70v1.5M367.70,171.00v-2.5M367.70,45.70v2.5M199.50,171.00h2.5M367.70,171.00h-2.5M199.50,139.68h1.5M367.70,139.68h-1.5M199.50,108.35h2.5M367.70,108.35h-2.5M199.50,77.03h1.5M367.70,77.03h-1.5M199.50,45.70h2.5M367.70,45.70h-2.5" stroke="#111" stroke-width="1.15" fill="none"/>
<text x="199.50" y="188.8" text-anchor="middle" font-size="20.5">0.0</text>
<text x="283.60" y="188.8" text-anchor="middle" font-size="20.5">0.3</text>
<text x="367.70" y="188.8" text-anchor="middle" font-size="20.5">0.6</text>
<text x="196.8" y="178.00" text-anchor="end" font-size="20.5">0.0</text>
<text x="196.8" y="115.35" text-anchor="end" font-size="20.5">0.5</text>
<text x="196.8" y="52.70" text-anchor="end" font-size="20.5">1.0</text>
<text transform="translate(207.59,210.70) scale(1.002,1.000)" font-size="24">initial strain</text>
<text transform="translate(331.59,211.00) scale(1.189,1.000)" font-size="24" font-style="italic" stroke="#000" stroke-width="0.12">ε</text>
<text transform="translate(342.79,217.30) scale(0.819,1.000)" font-size="14" stroke="#000" stroke-width="0.3">I</text>
<g transform="translate(159.8,161.0) rotate(-90)"><text transform="translate(0.00,0.00) scale(0.972,1.000)" font-size="25">stress</text><text transform="translate(61.69,-0.50) scale(1.083,0.790)" font-size="25" font-style="italic">σ</text><text transform="translate(73.75,5.50) scale(0.960,1.000)" font-size="15">0</text><text transform="translate(83.00,0.00) scale(0.917,1.000)" font-size="25">/G</text></g>
<circle cx="222.1" cy="142.8" r="1.7" fill="#000"/>
<circle cx="232.9" cy="129.4" r="1.7" fill="#000"/>
<circle cx="246.9" cy="115.7" r="1.7" fill="#000"/>
<circle cx="260.0" cy="103.0" r="1.7" fill="#000"/>
<circle cx="274.0" cy="90.5" r="1.7" fill="#000"/>
<circle cx="287.9" cy="78.6" r="1.7" fill="#000"/>
<circle cx="301.8" cy="67.2" r="1.7" fill="#000"/>
<circle cx="316.1" cy="55.7" r="1.7" fill="#000"/>
<circle cx="208.6" cy="159.9" r="6.6" fill="none" stroke="#1515d0" stroke-width="1.6"/>
<circle cx="227.7" cy="133.0" r="6.2" fill="none" stroke="#e01818" stroke-width="1.45"/>
<circle cx="236.4" cy="133.6" r="6.2" fill="none" stroke="#e01818" stroke-width="1.45"/>
<circle cx="261.8" cy="97.5" r="6.4" fill="none" stroke="#000" stroke-width="1.6"/>
<circle cx="279.1" cy="97.6" r="6.4" fill="none" stroke="#000" stroke-width="1.6"/>
<path d="M199.50,170.39 L200.91,168.75 L202.33,167.12 L203.74,165.52 L205.15,163.92 L206.57,162.34 L207.98,160.78 L209.39,159.23 L210.81,157.70 L212.22,156.18 L213.63,154.67 L215.05,153.18 L216.46,151.70 L217.87,150.23 L219.29,148.78 L220.70,147.34 L222.12,145.92 L223.53,144.51 L224.94,143.11 L226.36,141.73 L227.77,140.35 L229.18,138.99 L230.60,137.65 L232.01,136.31 L233.42,134.99 L234.84,133.68 L236.25,132.39 L237.66,131.10 L239.08,129.83 L240.49,128.57 L241.90,127.32 L243.32,126.08 L244.73,124.85 L246.14,123.64 L247.56,122.43 L248.97,121.24 L250.38,120.06 L251.80,118.89 L253.21,117.73 L254.62,116.58 L256.04,115.44 L257.45,114.31 L258.86,113.19 L260.28,112.08 L261.69,110.98 L263.11,109.89 L264.52,108.81 L265.93,107.74 L267.35,106.68 L268.76,105.63 L270.17,104.59 L271.59,103.56 L273.00,102.54 L274.41,101.52 L275.83,100.52 L277.24,99.52 L278.65,98.53 L280.07,97.55 L281.48,96.58 L282.89,95.61 L284.31,94.66 L285.72,93.71 L287.13,92.77 L288.55,91.84 L289.96,90.91 L291.37,89.99 L292.79,89.08 L294.20,88.18 L295.61,87.28 L297.03,86.40 L298.44,85.51 L299.85,84.64 L301.27,83.77 L302.68,82.91 L304.09,82.05 L305.51,81.20 L306.92,80.36 L308.34,79.52 L309.75,78.69 L311.16,77.86 L312.58,77.04 L313.99,76.22 L315.40,75.41 L316.82,74.61 L318.23,73.81 L319.64,73.01 L321.06,72.22 L322.47,71.44 L323.88,70.66 L325.30,69.88 L326.71,69.11 L328.12,68.34 L329.54,67.58 L330.95,66.82 L332.36,66.06 L333.78,65.31 L335.19,64.56 L336.60,63.81 L338.02,63.07 L339.43,62.33 L340.84,61.60 L342.26,60.87 L343.67,60.14 L345.08,59.41 L346.50,58.69 L347.91,57.97 L349.33,57.25 L350.74,56.53 L352.15,55.82 L353.57,55.10 L354.98,54.39 L356.39,53.69 L357.81,52.98 L359.22,52.27 L360.63,51.57 L362.05,50.87 L363.46,50.16 L364.87,49.46 L366.29,48.76 L367.70,48.07" fill="none" stroke="#000" stroke-width="2.6"/>
<text transform="translate(283.93,113.40) scale(1.150,0.720)" font-size="19.5" font-style="italic">σ</text>
<text transform="translate(293.84,118.80) scale(0.872,1.000)" font-size="13.8">0</text>
<text transform="translate(300.70,113.80) scale(0.973,1.000)" font-size="19.5">/G = 0.6</text>
<text transform="translate(248.45,146.30) scale(0.949,1.000)" font-size="19.5" fill="#c81c1c">0.3</text>
<text transform="translate(224.42,167.30) scale(0.917,1.000)" font-size="19.5" fill="#1c1cb4">0.1</text>
</svg>
</body></html>
